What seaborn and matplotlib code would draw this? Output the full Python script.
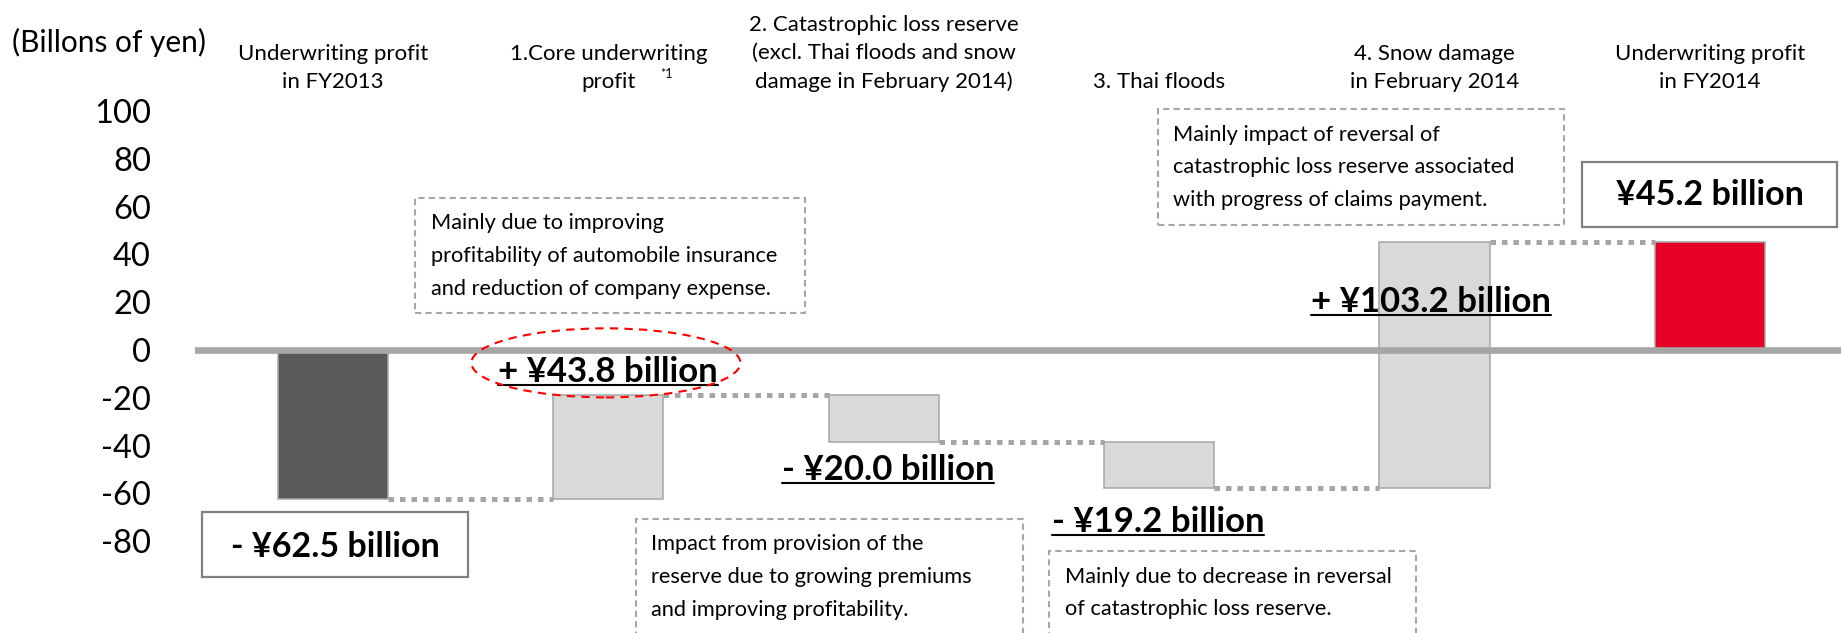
import numpy as np
import pandas as pd
import matplotlib
matplotlib.use("Agg")
import matplotlib.pyplot as plt
import seaborn as sns
from matplotlib.patches import Rectangle, Ellipse

# data
categories = ["Underwriting profit\nin FY2013",
              "1.Core underwriting\nprofit",
              "2. Catastrophic loss reserve\n(excl. Thai floods and snow\ndamage in February 2014)",
              "3. Thai floods",
              "4. Snow damage\nin February 2014",
              "Underwriting profit\nin FY2014"]
changes = [-62.5, 43.8, -20.0, -19.2, 103.2, 45.2]
is_total = [True, False, False, False, False, True]
value_labels = ["- ¥62.5 billion", "+ ¥43.8 billion", "- ¥20.0 billion",
                "- ¥19.2 billion", "+ ¥103.2 billion", "¥45.2 billion"]
yticks = [100, 80, 60, 40, 20, 0, -20, -40, -60, -80]
note_core = "Mainly due to improving\nprofitability of automobile insurance\nand reduction of company expense."
note_cat = "Impact from provision of the\nreserve due to growing premiums\nand improving profitability."
note_thai = "Mainly due to decrease in reversal\nof catastrophic loss reserve."
note_snow = "Mainly impact of reversal of\ncatastrophic loss reserve associated\nwith progress of claims payment."

# running bottoms for the waterfall
bottoms = []
level = 0.0
for ch, tot in zip(changes, is_total):
    if tot:
        bottoms.append(0.0)
        level = ch
    else:
        bottoms.append(level)
        level += ch
ends = [b + h for b, h in zip(bottoms, changes)]

dark = "#595959"
light = "#D9D9D9"
red = "#E60026"
edge = "#A6A6A6"
bar_colors = [dark, light, light, light, light, red]

sns.set_style("white")
plt.rcParams["font.family"] = ["Lato", "DejaVu Sans"]
plt.rcParams["text.color"] = "black"
plt.rcParams["xtick.color"] = "black"
plt.rcParams["ytick.color"] = "black"

fig = plt.figure(figsize=(18.41, 6.33), dpi=100)
ax = fig.add_axes([195 / 1841, 0, 1646 / 1841, 541 / 633])

df = pd.DataFrame({"step": categories, "change": changes})
sns.barplot(data=df, x="step", y="change", order=categories, width=0.4,
            color=light, saturation=1, edgecolor=edge, linewidth=1.1,
            errorbar=None, ax=ax)
for patch, b, h, c in zip(ax.patches, bottoms, changes, bar_colors):
    patch.set_y(b)
    patch.set_height(h)
    patch.set_facecolor(c)

ax.axhline(0, color=edge, lw=4.8, zorder=3)

# dotted connectors
for i in range(len(changes) - 1):
    ax.plot([i + 0.2, i + 0.8], [ends[i], ends[i]], color=edge, lw=3.6,
            dashes=(1.1, 1.2), zorder=2)

ax.set_xlim(-0.501, 5.476)
ax.set_ylim(-118.4, 107.9)
ax.set_yticks(yticks)
ax.set_yticklabels([str(t) for t in yticks])
ax.set_xticks(range(len(categories)))
ax.set_xticklabels(categories)
ax.tick_params(axis="y", length=0, pad=31.7, labelsize=23.5)
ax.tick_params(axis="x", top=True, labeltop=True, bottom=False,
               labelbottom=False, length=0, pad=0, labelsize=16)
for lab in ax.get_xticklabels():
    lab.set_linespacing(1.5)
ax.set_xlabel("")
ax.set_ylabel("")
for s in ax.spines.values():
    s.set_visible(False)

fig.text(12 / 1841, 1 - 42 / 633, "(Billons of yen)", fontsize=21.5,
         va="center", ha="left")
ax.text(1.21, 115.5, "*1", fontsize=9, ha="center", va="center")

# dashed note boxes
def note_box(x0, x1, y0, y1, text, tx, ty):
    ax.add_patch(Rectangle((x0, y0), x1 - x0, y1 - y0, fill=False,
                           ec="#A6A6A6", lw=1.5, ls=(0, (3, 2)), clip_on=False))
    ax.text(tx, ty, text, fontsize=15.7, ha="left", va="center",
            linespacing=1.8)

note_box(0.298, 1.714, 15.5, 63.6, note_core, 0.356, 39.4)
note_box(2.996, 4.470, 52.3, 100.8, note_snow, 3.052, 76.4)
note_box(1.100, 2.505, -125, -70.7, note_cat, 1.155, -95.0)
note_box(2.600, 3.932, -125, -84.1, note_thai, 2.658, -101.7)

# solid total boxes
ax.add_patch(Rectangle((-0.476, -95.0), 0.966, 27.2, fill=False,
                       ec="#808080", lw=1.6, clip_on=False))
ax.text(0.007, -82.4, value_labels[0], fontsize=24.5, fontweight="bold",
        ha="center", va="center")
ax.add_patch(Rectangle((4.535, 51.5), 0.926, 27.2, fill=False,
                       ec="#808080", lw=1.6, clip_on=False))
ax.text(5.0, 64.9, value_labels[5], fontsize=24.5, fontweight="bold",
        ha="center", va="center")

# underlined change labels
label_pos = {1: (1.0, -13.4), 2: (2.015, -54.4), 3: (2.996, -76.2), 4: (3.987, 15.9)}
texts = {}
for i, (x, y) in label_pos.items():
    texts[i] = ax.text(x, y, value_labels[i], fontsize=25, fontweight="bold",
                       ha="center", va="baseline", zorder=4)
fig.canvas.draw()
renderer = fig.canvas.get_renderer()
inv = ax.transData.inverted()
for i, t in texts.items():
    bb = t.get_window_extent(renderer)
    (xa, _), (xb, _) = inv.transform([(bb.x0, 0), (bb.x1, 0)])
    yl = label_pos[i][1] - 1.4
    ax.plot([xa, xb], [yl, yl], color="black", lw=1.5, zorder=4)

ax.add_patch(Ellipse((0.991, -5.4), 0.977, 28.9, fill=False, ec="red",
                     lw=1.5, ls=(0, (4, 3)), zorder=5, clip_on=False))

fig.savefig("out.png", dpi=100)
